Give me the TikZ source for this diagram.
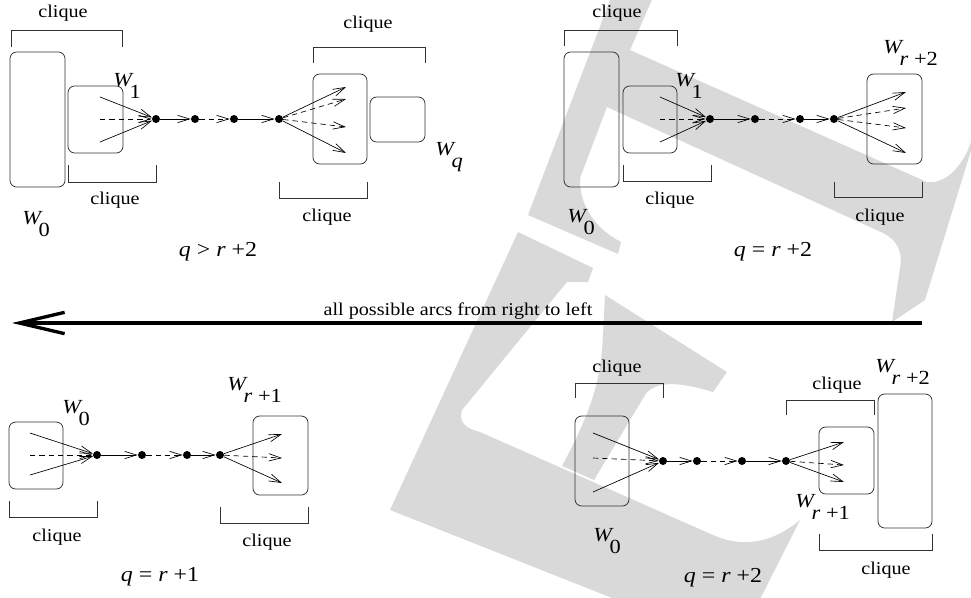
\documentclass[tikz,border=0pt]{standalone}
\usepackage{fontspec}
\setmainfont{Liberation Serif}[FakeStretch=1.12]
\usetikzlibrary{arrows.meta,positioning,fit}
\newcommand{\Wsub}[1]{\textit{W}\kern-3pt\raisebox{-9pt}{#1}}
\begin{document}
\begin{tikzpicture}[x=0.75pt,y=-0.75pt,
  txt/.style={font=\fontsize{13.5}{16}\selectfont,inner sep=0pt},
  cond/.style={font=\fontsize{16}{19}\selectfont,inner sep=0pt},
  wl/.style={font=\fontsize{15}{18}\selectfont,inner sep=0pt,anchor=base west},
  set/.style={draw=black!80,line width=0.6pt,rounded corners=5pt,inner sep=0pt},
  brk/.style={draw=black!80,line width=0.6pt},
  dot/.style={circle,fill,inner sep=0pt,minimum size=6pt},
  arc/.style={-{Straight Barb[length=9pt,width=5.5pt]},line width=0.5pt},
  dsh/.style={dash pattern=on 4pt off 3pt},
  wm/.style={fill=black!15}]
\useasboundingbox (0,0) rectangle (971,597);
\begin{scope}
\clip (0,0) rectangle (971,597);
\fill[wm] (612,-5) -- (528,215) -- (618,254) -- (621,242) .. controls (596,229) and (579,206) .. (580,178) -- (607,107)
  -- (883,233) .. controls (897,240) and (903,252) .. (900,268) -- (892,322) -- (925,300) -- (985,105)
  -- (968,150) .. controls (958,172) and (942,184) .. (927,182) -- (630,50) -- (654,-5) -- cycle;
\fill[wm] (518,232) -- (593,268) -- (588,282) -- (567,282) -- (462,410) .. controls (458,422) and (466,429) .. (480,432)
  -- (713,535) .. controls (740,547) and (770,545) .. (800,520) -- (752,615) -- (655,615) -- (390,510) -- cycle;
\fill[wm] (605,295) -- (727,372) -- (713,392) .. controls (680,382) and (655,380) .. (645,395) -- (594,480) -- (562,466)
  .. controls (592,410) and (601,380) .. (603,335) -- cycle;
\end{scope}

\node[set,fit={(10,52)(65,187)}] (aw0) {};
\node[set,fit={(68,86)(123,153)}] (aw1) {};
\node[set,fit={(313,74)(367,164)}] (awr) {};
\node[set,fit={(370,97)(425,142)}] (awq) {};
\node[wl] (al0) at (22,224) {\Wsub{0}};
\node[wl] (al1) at (113,86) {\Wsub{1}};
\node[wl] (alq) at (435,155) {\Wsub{\textit{q}}};
\foreach \n/\x in {1/156,2/195,3/234,4/279} \node[dot] (an\n) at (\x,119) {};
\coordinate (as1) at (100,97); \coordinate (as2) at (100,119); \coordinate (as3) at (100,142);
\coordinate (at1) at (346,87); \coordinate (at2) at (346,99); \coordinate (at3) at (346,127); \coordinate (at4) at (346,153);
\draw[arc] (as1) -- (an1); \draw[arc,dsh] (as2) -- (an1); \draw[arc] (as3) -- (an1);
\draw[arc] (an1) -- (an2); \draw[arc,dsh] (an2) -- (an3); \draw[arc] (an3) -- (an4);
\draw[arc] (an4) -- (at1); \draw[arc,dsh] (an4) -- (at2); \draw[arc,dsh] (an4) -- (at3); \draw[arc] (an4) -- (at4);
\draw[brk] (11,47) |- (122,30) -- (122,47);
\draw[brk] (68,165) |- (156,182) -- (156,165);
\draw[brk] (313,63) |- (425,47) -- (425,63);
\draw[brk] (279,182) |- (367,198) -- (367,182);
\node[txt] (ac1) at (63,13) {clique};
\node[txt] (ac2) at (115,200) {clique};
\node[txt] (ac3) at (368,24) {clique};
\node[txt] (ac4) at (327,217) {clique};
\node[cond] (acap) at (218,252) {\textit{q} > \textit{r} +2};

\node[set,fit={(564,52)(619,187)}] (bw0) {};
\node[set,fit={(623,86)(677,153)}] (bw1) {};
\node[set,fit={(867,74)(922,164)}] (bwr) {};
\node[wl] (bl0) at (567,222) {\Wsub{0}};
\node[wl] (bl1) at (675,86) {\Wsub{1}};
\node[wl] (blr) at (883,53) {\Wsub{\textit{r} +2}};
\foreach \n/\x in {1/710,2/755,3/800,4/834} \node[dot] (bn\n) at (\x,119) {};
\coordinate (bs1) at (660,97); \coordinate (bs2) at (660,119); \coordinate (bs3) at (660,142);
\coordinate (bt1) at (906,92); \coordinate (bt2) at (906,108); \coordinate (bt3) at (906,128); \coordinate (bt4) at (906,153);
\draw[arc] (bs1) -- (bn1); \draw[arc,dsh] (bs2) -- (bn1); \draw[arc] (bs3) -- (bn1);
\draw[arc] (bn1) -- (bn2); \draw[arc,dsh] (bn2) -- (bn3); \draw[arc] (bn3) -- (bn4);
\draw[arc] (bn4) -- (bt1); \draw[arc,dsh] (bn4) -- (bt2); \draw[arc,dsh] (bn4) -- (bt3); \draw[arc] (bn4) -- (bt4);
\draw[brk] (564,46) |- (677,30) -- (677,46);
\draw[brk] (623,165) |- (711,181) -- (711,165);
\draw[brk] (834,182) |- (922,197) -- (922,182);
\node[txt] (bc1) at (617,13) {clique};
\node[txt] (bc2) at (670,200) {clique};
\node[txt] (bc3) at (880,217) {clique};
\node[cond] (bcap) at (773,252) {\textit{q} = \textit{r} +2};

\coordinate (rr) at (922,323); \coordinate (ll) at (12,323);
\draw[line width=2.5pt,-{Straight Barb[length=34pt,width=16pt]}] (rr) -- (ll);
\node[txt] (mid) at (458,311) {all possible arcs from right to left};

\node[set,fit={(9,422)(63,489)}] (cw0) {};
\node[set,fit={(253,416)(308,495)}] (cwr) {};
\node[wl] (cl0) at (62,413) {\Wsub{0}};
\node[wl] (clr) at (227,390) {\Wsub{\textit{r} +1}};
\foreach \n/\x in {1/97,2/142,3/187,4/220} \node[dot] (cn\n) at (\x,455) {};
\coordinate (cs1) at (30,433); \coordinate (cs2) at (30,455); \coordinate (cs3) at (30,475);
\coordinate (ct1) at (282,434); \coordinate (ct2) at (282,458); \coordinate (ct3) at (282,483);
\draw[arc] (cs1) -- (cn1); \draw[arc,dsh] (cs2) -- (cn1); \draw[arc] (cs3) -- (cn1);
\draw[arc] (cn1) -- (cn2); \draw[arc,dsh] (cn2) -- (cn3); \draw[arc] (cn3) -- (cn4);
\draw[arc] (cn4) -- (ct1); \draw[arc,dsh] (cn4) -- (ct2); \draw[arc] (cn4) -- (ct3);
\draw[brk] (9,501) |- (97,517) -- (97,501);
\draw[brk] (220,507) |- (308,523) -- (308,507);
\node[txt] (cc1) at (57,537) {clique};
\node[txt] (cc2) at (267,542) {clique};
\node[cond] (ccap) at (160,577) {\textit{q} = \textit{r} +1};

\node[set,fit={(575,416)(629,506)}] (dw0) {};
\node[set,fit={(819,427)(874,494)}] (dw1) {};
\node[set,fit={(878,394)(932,528)}] (dw2) {};
\node[wl] (dl0) at (593,541) {\Wsub{0}};
\node[wl] (dl1) at (795,507) {\Wsub{\textit{r} +1}};
\node[wl] (dl2) at (875,372) {\Wsub{\textit{r} +2}};
\foreach \n/\x in {1/663,2/697,3/742,4/786} \node[dot] (dn\n) at (\x,461) {};
\coordinate (ds1) at (593,433); \coordinate (ds2) at (593,458); \coordinate (ds3) at (593,492);
\coordinate (dt1) at (844,442); \coordinate (dt2) at (844,465); \coordinate (dt3) at (844,482);
\draw[arc] (ds1) -- (dn1); \draw[arc,dsh] (ds2) -- (dn1); \draw[arc] (ds3) -- (dn1);
\draw[arc] (dn1) -- (dn2); \draw[arc,dsh] (dn2) -- (dn3); \draw[arc] (dn3) -- (dn4);
\draw[arc] (dn4) -- (dt1); \draw[arc,dsh] (dn4) -- (dt2); \draw[arc] (dn4) -- (dt3);
\draw[brk] (575,398) |- (663,383) -- (663,398);
\draw[brk] (786,415) |- (874,400) -- (874,415);
\draw[brk] (819,534) |- (932,550) -- (932,534);
\node[txt] (dc1) at (617,368) {clique};
\node[txt] (dc2) at (837,385) {clique};
\node[txt] (dc3) at (886,570) {clique};
\node[cond] (dcap) at (723,578) {\textit{q} = \textit{r} +2};
\end{tikzpicture}
\end{document}
